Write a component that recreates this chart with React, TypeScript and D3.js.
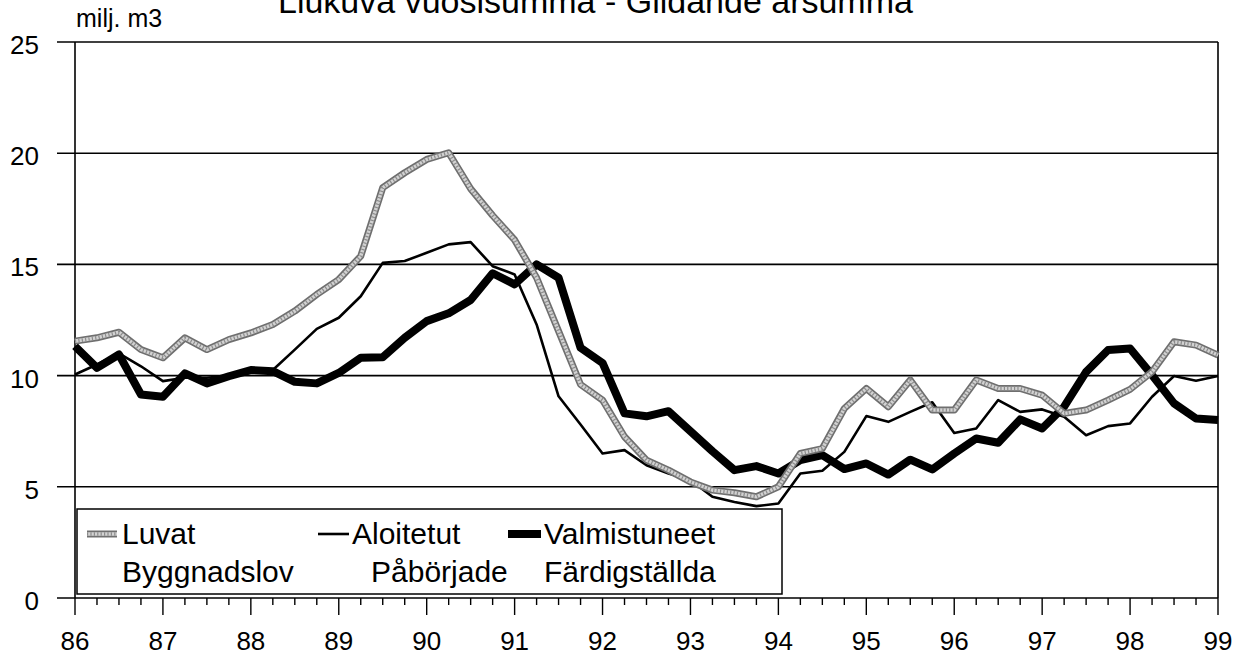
import React, { useEffect, useRef } from 'react';
import * as d3 from 'd3';

// quarterly moving annual sums, 1986Q1 .. 1999Q1 (milj. m3)
const quarters = d3.range(0, 53).map(i => 86 + i / 4);
const years = d3.range(86, 100);
const yTicks = [0, 5, 10, 15, 20, 25];

const luvat = [
  11.55, 11.7, 11.95, 11.17, 10.8, 11.7, 11.17, 11.62, 11.92, 12.3, 12.9, 13.65, 14.32,
  15.37, 18.45, 19.12, 19.72, 20.02, 18.4, 17.2, 16.1, 14.4, 12.0, 9.6, 8.9, 7.25,
  6.2, 5.75, 5.22, 4.85, 4.73, 4.55, 5.0, 6.5, 6.72, 8.52, 9.42, 8.6, 9.8,
  8.45, 8.45, 9.8, 9.42, 9.42, 9.12, 8.3, 8.45, 8.9, 9.38, 10.17, 11.52, 11.37, 10.92,
];
const aloitetut = [
  10.05, 10.5, 11.0, 10.42, 9.75, 9.9, 9.9, 10.0, 10.2, 10.25, 11.17, 12.1, 12.6,
  13.57, 15.07, 15.15, 15.52, 15.9, 16.0, 14.92, 14.55, 12.3, 9.07, 7.8, 6.5, 6.65,
  5.97, 5.6, 5.3, 4.55, 4.32, 4.13, 4.25, 5.6, 5.72, 6.57, 8.18, 7.92, 8.37,
  8.8, 7.42, 7.62, 8.9, 8.37, 8.48, 8.15, 7.32, 7.73, 7.85, 9.05, 9.98, 9.77, 9.98,
];
const valmistuneet = [
  11.32, 10.35, 10.95, 9.15, 9.05, 10.1, 9.65, 9.97, 10.25, 10.2, 9.72, 9.65, 10.12,
  10.8, 10.83, 11.7, 12.45, 12.8, 13.4, 14.6, 14.1, 15.0, 14.4, 11.25, 10.57, 8.3,
  8.17, 8.4, 7.5, 6.6, 5.75, 5.93, 5.6, 6.2, 6.42, 5.8, 6.05, 5.55, 6.22,
  5.78, 6.5, 7.17, 6.98, 8.03, 7.62, 8.6, 10.17, 11.15, 11.22, 10.02, 8.75, 8.07, 8.0,
];

const legendItems = [
  { name: 'Luvat', sub: 'Byggnadslov', kind: 'grey', x0: 87, x1: 117, tx: 122 },
  { name: 'Aloitetut', sub: 'Påbörjade', kind: 'thin', x0: 318, x1: 349, tx: 352, sx: 371 },
  { name: 'Valmistuneet', sub: 'Färdigställda', kind: 'thick', x0: 508, x1: 541, tx: 544 },
];

const FONT = '"Liberation Sans", Arial, Helvetica, sans-serif';

function drawSeries(g, d, kind) {
  if (kind === 'grey') {
    g.append('path').attr('d', d).attr('fill', 'none').attr('stroke', '#6f6f6f')
      .attr('stroke-width', 7).attr('stroke-linejoin', 'round');
    g.append('path').attr('d', d).attr('fill', 'none').attr('stroke', '#d2d2d2')
      .attr('stroke-width', 3.6).attr('stroke-linejoin', 'round');
    g.append('path').attr('d', d).attr('fill', 'none').attr('stroke', '#8c8c8c')
      .attr('stroke-width', 3.6).attr('stroke-dasharray', '1.2 2.2');
  } else if (kind === 'thin') {
    g.append('path').attr('d', d).attr('fill', 'none').attr('stroke', '#000')
      .attr('stroke-width', 2.6).attr('stroke-linejoin', 'round');
  } else {
    g.append('path').attr('d', d).attr('fill', 'none').attr('stroke', '#000')
      .attr('stroke-width', 8).attr('stroke-linejoin', 'round');
  }
}

export default function App() {
  const svgRef = useRef(null);

  useEffect(() => {
    const svg = d3.select(svgRef.current);
    svg.selectAll('*').remove();

    const width = 1246;
    const height = 655;
    svg.attr('width', width).attr('height', height);

    const x = d3.scaleLinear().domain([86, 99]).range([75, 1218]);
    const y = d3.scaleLinear().domain([0, 25]).range([598, 42]);

    svg.append('rect').attr('width', width).attr('height', height).attr('fill', '#fff');

    // title (cut off at the top of the scan) and unit
    svg.append('text').attr('x', 278).attr('y', 12.7)
      .attr('font-family', FONT).attr('font-size', 34)
      .text('Liukuva vuosisumma - Glidande årsumma');
    svg.append('text').attr('x', 76).attr('y', 26.7)
      .attr('font-family', FONT).attr('font-size', 25)
      .text('milj. m3');

    // horizontal gridlines + y ticks
    svg.append('g').selectAll('line').data(yTicks).join('line')
      .attr('x1', 57).attr('x2', x(99))
      .attr('y1', d => y(d)).attr('y2', d => y(d))
      .attr('stroke', '#000').attr('stroke-width', 1.6);
    svg.append('g').selectAll('text').data(yTicks).join('text')
      .attr('x', 39).attr('y', d => y(d) + 12)
      .attr('text-anchor', 'end')
      .attr('font-family', FONT).attr('font-size', 26)
      .text(d => d);

    // frame sides
    svg.append('line').attr('x1', x(86)).attr('x2', x(86)).attr('y1', y(25)).attr('y2', y(0))
      .attr('stroke', '#000').attr('stroke-width', 1.6);
    svg.append('line').attr('x1', x(99)).attr('x2', x(99)).attr('y1', y(25)).attr('y2', y(0))
      .attr('stroke', '#000').attr('stroke-width', 1.6);

    // x ticks: years major, quarters minor
    svg.append('g').selectAll('line').data(quarters).join('line')
      .attr('x1', d => x(d)).attr('x2', d => x(d))
      .attr('y1', y(0)).attr('y2', d => (Number.isInteger(d) ? y(0) + 17 : y(0) + 7))
      .attr('stroke', '#000').attr('stroke-width', 1.4);
    svg.append('g').selectAll('text').data(years).join('text')
      .attr('x', d => x(d)).attr('y', 650)
      .attr('text-anchor', 'middle')
      .attr('font-family', FONT).attr('font-size', 26)
      .text(d => d);

    const line = d3.line()
      .x((d, i) => x(quarters[i]))
      .y(d => y(d));

    const plot = svg.append('g');
    drawSeries(plot, line(valmistuneet), 'thick');
    drawSeries(plot, line(aloitetut), 'thin');
    drawSeries(plot, line(luvat), 'grey');

    // legend
    const lg = svg.append('g');
    lg.append('rect').attr('x', 77).attr('y', 509).attr('width', 705).attr('height', 85)
      .attr('fill', '#fff').attr('stroke', '#000').attr('stroke-width', 1.5);
    legendItems.forEach(it => {
      drawSeries(lg, `M${it.x0},534L${it.x1},534`, it.kind);
      lg.append('text').attr('x', it.tx).attr('y', 544)
        .attr('font-family', FONT).attr('font-size', 30).text(it.name);
      lg.append('text').attr('x', it.sx || it.tx).attr('y', 582)
        .attr('font-family', FONT).attr('font-size', 30).text(it.sub);
    });
  }, []);

  return (
    <div style={{ position: 'absolute', left: 0, top: 0 }}>
      <svg ref={svgRef}></svg>
    </div>
  );
}
